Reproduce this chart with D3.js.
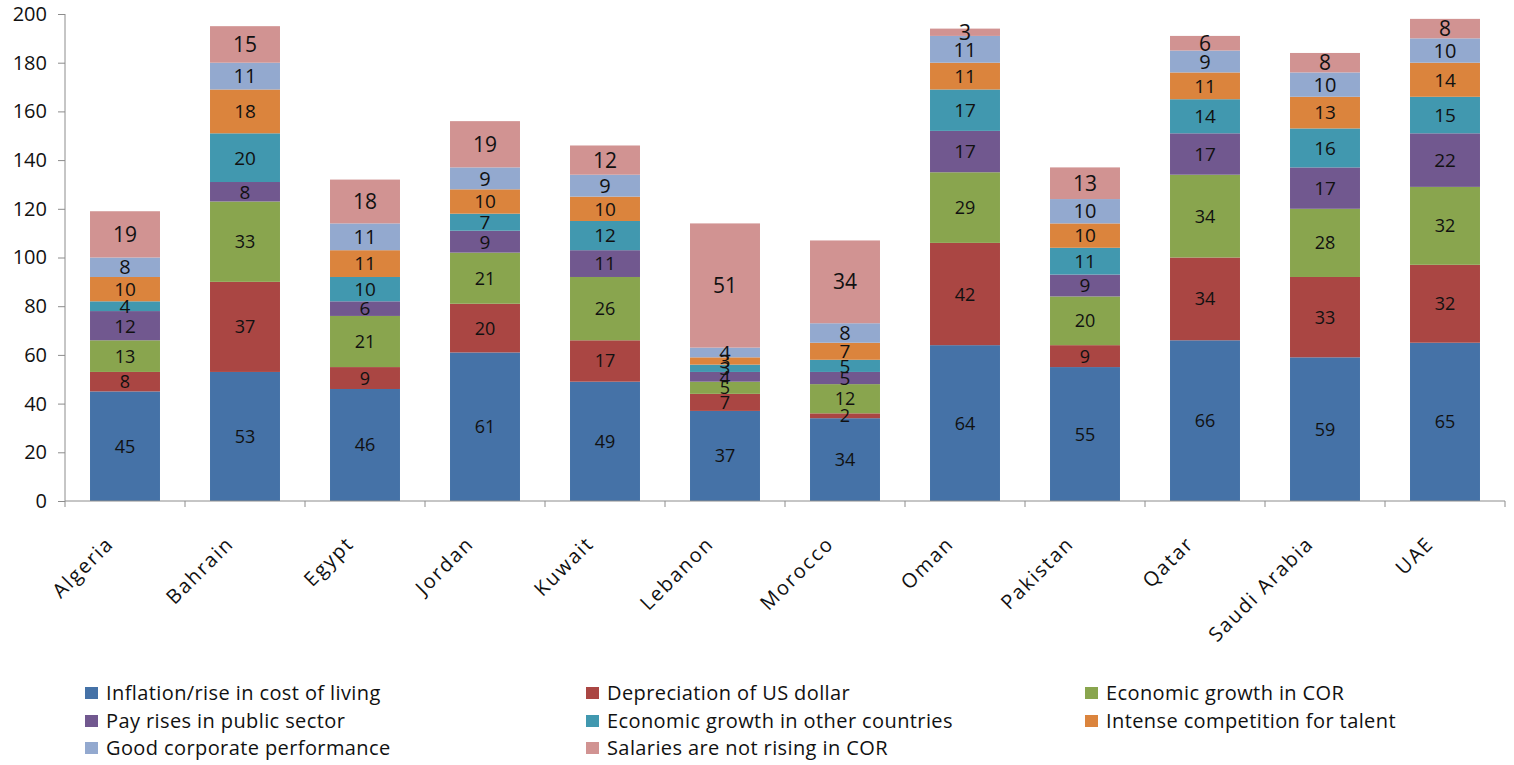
<!DOCTYPE html>
<html>
<head>
<meta charset="utf-8">
<script src="https://cdn.jsdelivr.net/npm/d3@7"></script>
<style>
  html, body { margin: 0; padding: 0; background: #fff; }
  svg { display: block; font-family: "Open Sans", "DejaVu Sans", sans-serif; }
</style>
</head>
<body>
<svg id="chart" width="1514" height="765"></svg>
<script>
// Countries on the category axis
const countries = ["Algeria", "Bahrain", "Egypt", "Jordan", "Kuwait", "Lebanon",
  "Morocco", "Oman", "Pakistan", "Qatar", "Saudi Arabia", "UAE"];

// Reasons for salary increases, stacked bottom to top
const seriesNames = [
  "Inflation/rise in cost of living",
  "Depreciation of US dollar",
  "Economic growth in COR",
  "Pay rises in public sector",
  "Economic growth in other countries",
  "Intense competition for talent",
  "Good corporate performance",
  "Salaries are not rising in COR"
];

// One array per series, in country order
const inflation      = [45, 53, 46, 61, 49, 37, 34, 64, 55, 66, 59, 65];
const usdDepreciation = [8, 37, 9, 20, 17, 7, 2, 42, 9, 34, 33, 32];
const growthCOR      = [13, 33, 21, 21, 26, 5, 12, 29, 20, 34, 28, 32];
const publicPayRises = [12, 8, 6, 9, 11, 4, 5, 17, 9, 17, 17, 22];
const growthOther    = [4, 20, 10, 7, 12, 3, 5, 17, 11, 14, 16, 15];
const talentCompetition = [10, 18, 11, 10, 10, 3, 7, 11, 10, 11, 13, 14];
const corporatePerf  = [8, 11, 11, 9, 9, 4, 8, 11, 10, 9, 10, 10];
const salariesFlat   = [19, 15, 18, 19, 12, 51, 34, 3, 13, 6, 8, 8];

const seriesValues = [inflation, usdDepreciation, growthCOR, publicPayRises,
  growthOther, talentCompetition, corporatePerf, salariesFlat];

const yTicks = [0, 20, 40, 60, 80, 100, 120, 140, 160, 180, 200];

const colors = ["#4572A7", "#AA4643", "#89A54E", "#71588F",
  "#4198AF", "#DB843D", "#93A9CF", "#D19392"];

// Build a table the stack layout can read
const keys = seriesNames.map((_, i) => "s" + i);
const table = countries.map((c, j) => {
  const row = { country: c };
  keys.forEach((k, i) => row[k] = seriesValues[i][j]);
  return row;
});

const svg = d3.select("#chart");
const plot = { left: 65, right: 1505, top: 14, bottom: 501 };

const x = d3.scaleBand()
  .domain(countries)
  .range([plot.left, plot.right])
  .paddingInner(0.417)
  .paddingOuter(0.2085);

const y = d3.scaleLinear()
  .domain([0, 200])
  .range([plot.bottom, plot.top]);

const stacked = d3.stack().keys(keys)(table);

// Bars
const layers = svg.append("g").selectAll("g")
  .data(stacked)
  .join("g")
  .attr("fill", (d, i) => colors[i]);

layers.selectAll("rect")
  .data(d => d)
  .join("rect")
  .attr("x", d => x(d.data.country))
  .attr("width", x.bandwidth())
  .attr("y", d => y(d[1]))
  .attr("height", d => y(d[0]) - y(d[1]));

// Value labels centred in each segment
const labelSize = [18, 18, 18, 19, 19, 19, 20, 21];
const labels = svg.append("g").attr("fill", "#111").attr("text-anchor", "middle");
stacked.forEach((layer, i) => {
  labels.selectAll(null)
    .data(layer)
    .join("text")
    .attr("x", d => x(d.data.country) + x.bandwidth() / 2)
    .attr("y", d => y((d[0] + d[1]) / 2))
    .attr("dy", "0.36em")
    .attr("font-size", labelSize[i])
    .text(d => d[1] - d[0]);
});

// Y axis
const yAxis = svg.append("g")
  .attr("transform", `translate(${plot.left},0)`)
  .call(d3.axisLeft(y).tickValues(yTicks).tickSize(7).tickPadding(11));
yAxis.select(".domain").attr("stroke", "#8c8c8c").attr("d", `M0,${plot.top}V${plot.bottom}`);
yAxis.selectAll(".tick line").attr("stroke", "#8c8c8c");
yAxis.selectAll(".tick text").attr("font-size", 20).attr("fill", "#111")
  .attr("font-family", "'Open Sans', sans-serif");

// X axis: tick marks sit on the band boundaries
const xAxisG = svg.append("g").attr("transform", `translate(0,${plot.bottom})`);
xAxisG.append("line")
  .attr("x1", plot.left).attr("x2", plot.right)
  .attr("stroke", "#8c8c8c");
const step = x.step();
const boundaries = d3.range(countries.length + 1).map(i => plot.left + i * step);
xAxisG.selectAll("line.b")
  .data(boundaries)
  .join("line")
  .attr("class", "b")
  .attr("x1", d => d).attr("x2", d => d)
  .attr("y1", 0).attr("y2", 6)
  .attr("stroke", "#8c8c8c");

xAxisG.selectAll("text")
  .data(countries)
  .join("text")
  .attr("transform", d => `translate(${x(d) + x.bandwidth() / 2 - 10},${44}) rotate(-45)`)
  .attr("text-anchor", "end")
  .attr("font-size", 20)
  .attr("letter-spacing", "1.8px")
  .attr("fill", "#111")
  .text(d => d);

// Legend: three columns, filled row by row
const legend = svg.append("g");
const colX = [85, 586, 1085];
const rowY = [693, 721, 748];
seriesNames.forEach((name, i) => {
  const g = legend.append("g")
    .attr("transform", `translate(${colX[i % 3]},${rowY[Math.floor(i / 3)]})`);
  g.append("rect").attr("x", 0).attr("y", -6).attr("width", 13).attr("height", 12)
    .attr("fill", colors[i]);
  g.append("text").attr("x", 21).attr("dy", "0.36em")
    .attr("font-size", 20).attr("letter-spacing", "0.4px")
    .attr("fill", "#111").text(name);
});
</script>
</body>
</html>
